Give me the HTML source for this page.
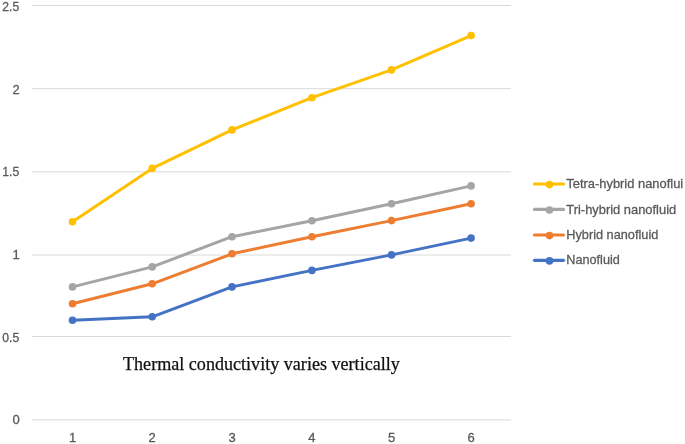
<!DOCTYPE html>
<html><head><meta charset="utf-8"><style>
html,body{margin:0;padding:0;background:#fff;width:685px;height:444px;overflow:hidden}
svg{display:block;filter:blur(0.4px)}
.ax{font-family:"Liberation Sans",sans-serif;font-size:13px;fill:#595959;stroke:#595959;stroke-width:0.3px}
.lg{font-family:"Liberation Sans",sans-serif;font-size:13.6px;fill:#595959;stroke:#595959;stroke-width:0.3px}
.tt{font-family:"Liberation Serif",serif;font-size:18.1px;fill:#111;stroke:#111;stroke-width:0.25px}
</style></head><body>
<svg width="685" height="444" viewBox="0 0 685 444">
<line x1="32" x2="511" y1="5.5" y2="5.5" stroke="#D9D9D9" stroke-width="1"/>
<text x="19.2" y="11" text-anchor="end" class="ax" textLength="16.9" lengthAdjust="spacingAndGlyphs">2.5</text>
<line x1="32" x2="511" y1="88.7" y2="88.7" stroke="#D9D9D9" stroke-width="1"/>
<text x="19.8" y="94" text-anchor="end" class="ax">2</text>
<line x1="32" x2="511" y1="171.8" y2="171.8" stroke="#D9D9D9" stroke-width="1"/>
<text x="19.2" y="175.8" text-anchor="end" class="ax" textLength="16.9" lengthAdjust="spacingAndGlyphs">1.5</text>
<line x1="32" x2="511" y1="255" y2="255" stroke="#D9D9D9" stroke-width="1"/>
<text x="19.8" y="259" text-anchor="end" class="ax">1</text>
<line x1="32" x2="511" y1="336.5" y2="336.5" stroke="#D9D9D9" stroke-width="1"/>
<text x="19.2" y="342" text-anchor="end" class="ax" textLength="16.9" lengthAdjust="spacingAndGlyphs">0.5</text>
<line x1="32" x2="511" y1="419.9" y2="419.9" stroke="#D9D9D9" stroke-width="1"/>
<text x="19.8" y="424" text-anchor="end" class="ax">0</text>
<text x="72.5" y="441.8" text-anchor="middle" class="ax">1</text>
<text x="152.2" y="441.8" text-anchor="middle" class="ax">2</text>
<text x="232.0" y="441.8" text-anchor="middle" class="ax">3</text>
<text x="311.9" y="441.8" text-anchor="middle" class="ax">4</text>
<text x="391.5" y="441.8" text-anchor="middle" class="ax">5</text>
<text x="471.1" y="441.8" text-anchor="middle" class="ax">6</text>
<polyline points="72.5,320.2 152.2,316.8 232.0,286.9 311.9,270.4 391.5,254.9 471.1,238.1" fill="none" stroke="#4472C4" stroke-width="3" stroke-linejoin="round" stroke-linecap="round"/>
<circle cx="72.5" cy="320.2" r="3.8" fill="#4472C4"/>
<circle cx="152.2" cy="316.8" r="3.8" fill="#4472C4"/>
<circle cx="232.0" cy="286.9" r="3.8" fill="#4472C4"/>
<circle cx="311.9" cy="270.4" r="3.8" fill="#4472C4"/>
<circle cx="391.5" cy="254.9" r="3.8" fill="#4472C4"/>
<circle cx="471.1" cy="238.1" r="3.8" fill="#4472C4"/>
<polyline points="72.5,303.7 152.2,283.8 232.0,253.8 311.9,236.7 391.5,220.6 471.1,203.8" fill="none" stroke="#ED7D31" stroke-width="3" stroke-linejoin="round" stroke-linecap="round"/>
<circle cx="72.5" cy="303.7" r="3.8" fill="#ED7D31"/>
<circle cx="152.2" cy="283.8" r="3.8" fill="#ED7D31"/>
<circle cx="232.0" cy="253.8" r="3.8" fill="#ED7D31"/>
<circle cx="311.9" cy="236.7" r="3.8" fill="#ED7D31"/>
<circle cx="391.5" cy="220.6" r="3.8" fill="#ED7D31"/>
<circle cx="471.1" cy="203.8" r="3.8" fill="#ED7D31"/>
<polyline points="72.5,286.9 152.2,266.9 232.0,236.7 311.9,220.7 391.5,203.8 471.1,185.9" fill="none" stroke="#A5A5A5" stroke-width="3" stroke-linejoin="round" stroke-linecap="round"/>
<circle cx="72.5" cy="286.9" r="3.8" fill="#A5A5A5"/>
<circle cx="152.2" cy="266.9" r="3.8" fill="#A5A5A5"/>
<circle cx="232.0" cy="236.7" r="3.8" fill="#A5A5A5"/>
<circle cx="311.9" cy="220.7" r="3.8" fill="#A5A5A5"/>
<circle cx="391.5" cy="203.8" r="3.8" fill="#A5A5A5"/>
<circle cx="471.1" cy="185.9" r="3.8" fill="#A5A5A5"/>
<polyline points="72.5,221.7 152.2,168.4 232.0,129.9 311.9,97.7 391.5,69.9 471.1,35.6" fill="none" stroke="#FFC000" stroke-width="3" stroke-linejoin="round" stroke-linecap="round"/>
<circle cx="72.5" cy="221.7" r="3.8" fill="#FFC000"/>
<circle cx="152.2" cy="168.4" r="3.8" fill="#FFC000"/>
<circle cx="232.0" cy="129.9" r="3.8" fill="#FFC000"/>
<circle cx="311.9" cy="97.7" r="3.8" fill="#FFC000"/>
<circle cx="391.5" cy="69.9" r="3.8" fill="#FFC000"/>
<circle cx="471.1" cy="35.6" r="3.8" fill="#FFC000"/>
<line x1="534.5" x2="563.5" y1="184" y2="184" stroke="#FFC000" stroke-width="3.2" stroke-linecap="round"/>
<circle cx="549.5" cy="184.6" r="3.8" fill="#FFC000"/>
<text x="566.3" y="187.8" class="lg" textLength="116.9" lengthAdjust="spacingAndGlyphs">Tetra-hybrid nanoflui</text>
<line x1="534.5" x2="563.5" y1="209.4" y2="209.4" stroke="#A5A5A5" stroke-width="3.2" stroke-linecap="round"/>
<circle cx="549.5" cy="210.0" r="3.8" fill="#A5A5A5"/>
<text x="566.3" y="213.5" class="lg" textLength="109.9" lengthAdjust="spacingAndGlyphs">Tri-hybrid nanofluid</text>
<line x1="534.5" x2="563.5" y1="235" y2="235" stroke="#ED7D31" stroke-width="3.2" stroke-linecap="round"/>
<circle cx="549.5" cy="235.6" r="3.8" fill="#ED7D31"/>
<text x="566.3" y="238.6" class="lg" textLength="92.0" lengthAdjust="spacingAndGlyphs">Hybrid nanofluid</text>
<line x1="534.5" x2="563.5" y1="260.3" y2="260.3" stroke="#4472C4" stroke-width="3.2" stroke-linecap="round"/>
<circle cx="549.5" cy="260.90000000000003" r="3.8" fill="#4472C4"/>
<text x="566.3" y="263.7" class="lg" textLength="53.5" lengthAdjust="spacingAndGlyphs">Nanofluid</text>
<text x="123" y="369.8" class="tt">Thermal conductivity varies vertically</text>
</svg>
</body></html>
